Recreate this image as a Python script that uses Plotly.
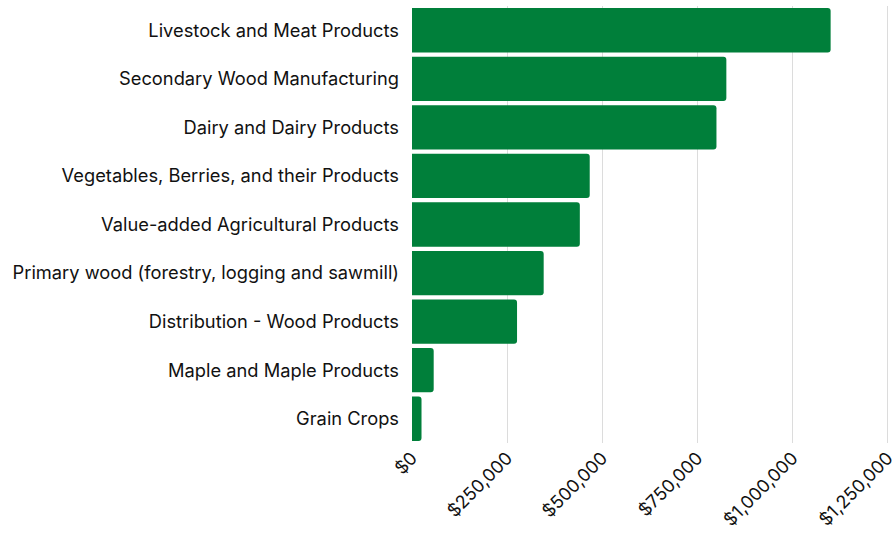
import plotly.graph_objects as go

categories = [
    "Livestock and Meat Products",
    "Secondary Wood Manufacturing",
    "Dairy and Dairy Products",
    "Vegetables, Berries, and their Products",
    "Value-added Agricultural Products",
    "Primary wood (forestry, logging and sawmill)",
    "Distribution - Wood Products",
    "Maple and Maple Products",
    "Grain Crops",
]
values = [1100000, 826000, 800000, 467000, 441000, 346000, 276000, 57000, 25000]
tick_vals = [0, 250000, 500000, 750000, 1000000, 1250000]
tick_text = ["$0", "$250,000", "$500,000", "$750,000", "$1,000,000", "$1,250,000"]

fig = go.Figure(
    go.Bar(
        x=values,
        y=categories,
        orientation="h",
        marker=dict(color="#007F3A", cornerradius=3, line=dict(width=0)),
    )
)

fig.update_layout(
    width=895,
    height=537,
    margin=dict(l=412, r=5, t=6, b=94),
    plot_bgcolor="white",
    paper_bgcolor="white",
    font=dict(family="Inter", size=18.3, color="#111111"),
    bargap=0.087,
    showlegend=False,
)
fig.update_xaxes(
    range=[0, 1256000],
    tickvals=tick_vals,
    ticktext=tick_text,
    tickangle=-45,
    ticklabeloverflow="allow",
    showgrid=True,
    gridcolor="#dcdcdc",
    gridwidth=1,
    zeroline=False,
    showline=False,
    automargin=False,
    tickfont=dict(size=18),
)
fig.update_yaxes(
    autorange="reversed",
    showgrid=False,
    zeroline=False,
    showline=False,
    automargin=False,
    ticklabelstandoff=12,
)

fig.write_html(
    "out.html",
    config={"displayModeBar": False},
    post_script="document.body.style.margin='0';document.body.style.overflow='hidden';",
)
